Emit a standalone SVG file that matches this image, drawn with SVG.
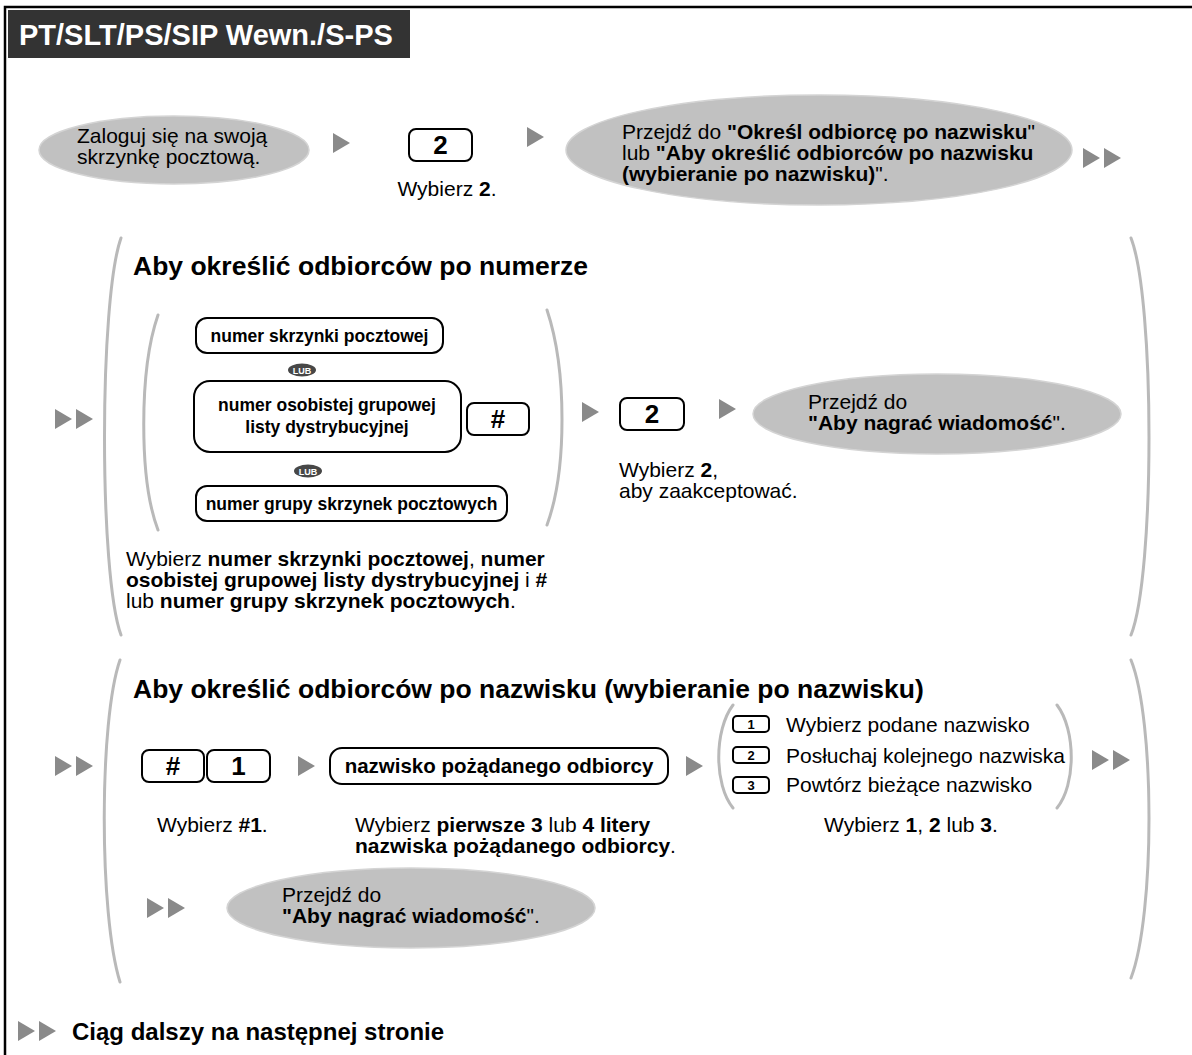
<svg xmlns="http://www.w3.org/2000/svg" xmlns:xlink="http://www.w3.org/1999/xlink" width="1192" height="1055" viewBox="0 0 1192 1055">
<style>
text{font-family:"Liberation Sans",Arial,Helvetica,sans-serif;font-size:21px;fill:#000}
.b{font-weight:bold}
.hd{font-size:29px;font-weight:bold;fill:#fff}
.tt{font-size:26.5px;font-weight:bold}
.lb{font-size:17.5px;font-weight:bold}
.nb{font-size:20.5px;font-weight:bold}
.kt{font-size:26px;font-weight:bold}
.sk{font-size:13px;font-weight:bold}
.lub{font-size:9px;font-weight:bold;fill:#fff}
.ft{font-size:24px;font-weight:bold}
.box{fill:#fff;stroke:#000;stroke-width:2}
.ell{fill:#c1c1c1;stroke:#d4d4d4;stroke-width:1.5}
.br{fill:none;stroke:#b9b9b9;stroke-width:3;stroke-linecap:round}
.arr{fill:#8a8a8a}
.badge{fill:#474747}
</style>
<defs>
<polygon id="tri" class="arr" points="0,-10 0,10 17,0"/>
<g id="dbl"><use xlink:href="#tri" href="#tri"/><use xlink:href="#tri" href="#tri" x="21"/></g>
</defs>
<rect width="1192" height="1055" fill="#fff"/>
<path d="M5,1055 V7 H1192" fill="none" stroke="#000" stroke-width="2.5"/>
<g id="header">
<rect x="8" y="10" width="402" height="48" fill="#333"/>
<text class="hd" x="19" y="45">PT/SLT/PS/SIP Wewn./S-PS</text>
</g>
<g id="brackets">
<path class="br" d="M121,238 C99,300 99,575 121,635"/>
<path class="br" d="M1131,238 C1155,300 1155,575 1131,635"/>
<path class="br" d="M158,315 C139,370 139,480 158,530"/>
<path class="br" d="M547,310 C567,370 567,470 547,525"/>
<path class="br" d="M120,660 C99,720 99,915 120,982"/>
<path class="br" d="M1131,660 C1155,720 1155,915 1131,978"/>
<path class="br" d="M733,705 C714,730 714,785 733,808"/>
<path class="br" d="M1057,705 C1076,730 1076,785 1057,808"/>
</g>
<g id="connectors">
<use xlink:href="#tri" href="#tri" x="333" y="143"/>
<use xlink:href="#tri" href="#tri" x="527" y="137"/>
<use xlink:href="#dbl" href="#dbl" x="1083" y="158"/>
<use xlink:href="#dbl" href="#dbl" x="55" y="419"/>
<use xlink:href="#tri" href="#tri" x="582" y="412"/>
<use xlink:href="#tri" href="#tri" x="719" y="409"/>
<use xlink:href="#dbl" href="#dbl" x="55" y="766"/>
<use xlink:href="#tri" href="#tri" x="298" y="766"/>
<use xlink:href="#tri" href="#tri" x="686" y="766"/>
<use xlink:href="#dbl" href="#dbl" x="1092" y="760"/>
<use xlink:href="#dbl" href="#dbl" x="147" y="908"/>
<use xlink:href="#dbl" href="#dbl" x="18" y="1031"/>
</g>
<g id="login">
<ellipse class="ell" cx="174" cy="150" rx="135" ry="34"/>
<text x="77" y="143">Zaloguj się na swoją<tspan x="77" dy="21">skrzynkę pocztową.</tspan></text>
</g>
<g id="key-2-top">
<rect class="box" x="409" y="129" width="63" height="32" rx="7"/>
<text class="kt" x="440.5" y="154" text-anchor="middle">2</text>
<text x="447" y="196" text-anchor="middle">Wybierz <tspan class="b">2</tspan>.</text>
</g>
<g id="goto-name">
<ellipse class="ell" cx="819" cy="150" rx="253" ry="55"/>
<text x="622" y="139">Przejdź do <tspan class="b">"Określ odbiorcę po nazwisku</tspan>"<tspan x="622" dy="21">lub </tspan><tspan class="b">"Aby określić odbiorców po nazwisku</tspan><tspan x="622" dy="21" class="b">(wybieranie po nazwisku)</tspan>".</text>
</g>
<g id="title-number">
<text class="tt" x="133" y="275">Aby określić odbiorców po numerze</text>
</g>
<g id="box-mailbox">
<rect class="box" x="196" y="318" width="247" height="35" rx="11"/>
<text class="lb" x="319.5" y="341.5" text-anchor="middle">numer skrzynki pocztowej</text>
</g>
<g id="lub-1">
<ellipse class="badge" cx="302" cy="370" rx="14" ry="6.5"/>
<text class="lub" x="302" y="373.5" text-anchor="middle">LUB</text>
</g>
<g id="box-personal">
<rect class="box" x="194" y="381" width="267" height="71" rx="16"/>
<text class="lb" x="327" y="411" text-anchor="middle">numer osobistej grupowej<tspan x="327" dy="22">listy dystrybucyjnej</tspan></text>
</g>
<g id="key-hash-1">
<rect class="box" x="467" y="403" width="62" height="32" rx="7"/>
<text class="kt" x="498" y="428" text-anchor="middle">#</text>
</g>
<g id="lub-2">
<ellipse class="badge" cx="308" cy="471" rx="14" ry="6.5"/>
<text class="lub" x="308" y="474.5" text-anchor="middle">LUB</text>
</g>
<g id="box-group">
<rect class="box" x="196" y="486" width="311" height="35" rx="11"/>
<text class="lb" x="351.5" y="509.5" text-anchor="middle">numer grupy skrzynek pocztowych</text>
</g>
<g id="note-number">
<text x="126" y="566">Wybierz <tspan class="b">numer skrzynki pocztowej</tspan>, <tspan class="b">numer</tspan><tspan x="126" dy="21" class="b">osobistej grupowej listy dystrybucyjnej</tspan> i <tspan class="b">#</tspan><tspan x="126" dy="21">lub </tspan><tspan class="b">numer grupy skrzynek pocztowych</tspan>.</text>
</g>
<g id="key-2-accept">
<rect class="box" x="620" y="398" width="64" height="32" rx="7"/>
<text class="kt" x="652" y="423" text-anchor="middle">2</text>
<text x="619" y="477">Wybierz <tspan class="b">2</tspan>,<tspan x="619" dy="21">aby zaakceptować.</tspan></text>
</g>
<g id="goto-record-1">
<ellipse class="ell" cx="937" cy="414" rx="184" ry="40"/>
<text x="808" y="409">Przejdź do<tspan x="808" dy="21" class="b">"Aby nagrać wiadomość</tspan>".</text>
</g>
<g id="title-name">
<text class="tt" x="133" y="698">Aby określić odbiorców po nazwisku (wybieranie po nazwisku)</text>
</g>
<g id="key-hash1">
<rect class="box" x="142" y="750" width="62" height="32" rx="7"/>
<text class="kt" x="173" y="775" text-anchor="middle">#</text>
<rect class="box" x="207" y="750" width="63" height="32" rx="7"/>
<text class="kt" x="238.5" y="775" text-anchor="middle">1</text>
<text x="157" y="832">Wybierz <tspan class="b">#1</tspan>.</text>
</g>
<g id="box-name">
<rect class="box" x="330" y="748" width="338" height="36" rx="12"/>
<text class="nb" x="499" y="773" text-anchor="middle">nazwisko pożądanego odbiorcy</text>
<text x="355" y="832">Wybierz <tspan class="b">pierwsze 3</tspan> lub <tspan class="b">4 litery</tspan><tspan x="355" dy="21" class="b">nazwiska pożądanego odbiorcy</tspan>.</text>
</g>
<g id="name-options">
<rect class="box" x="733" y="716" width="36" height="16" rx="4"/>
<text class="sk" x="751" y="729" text-anchor="middle">1</text>
<text x="786" y="732">Wybierz podane nazwisko</text>
<rect class="box" x="733" y="747" width="36" height="16" rx="4"/>
<text class="sk" x="751" y="760" text-anchor="middle">2</text>
<text x="786" y="763">Posłuchaj kolejnego nazwiska</text>
<rect class="box" x="733" y="777" width="36" height="16" rx="4"/>
<text class="sk" x="751" y="790" text-anchor="middle">3</text>
<text x="786" y="792">Powtórz bieżące nazwisko</text>
<text x="911" y="832" text-anchor="middle">Wybierz <tspan class="b">1</tspan>, <tspan class="b">2</tspan> lub <tspan class="b">3</tspan>.</text>
</g>
<g id="goto-record-2">
<ellipse class="ell" cx="411" cy="908" rx="184" ry="40"/>
<text x="282" y="902">Przejdź do<tspan x="282" dy="21" class="b">"Aby nagrać wiadomość</tspan>".</text>
</g>
<g id="footer">
<text class="ft" x="72" y="1040">Ciąg dalszy na następnej stronie</text>
</g>
</svg>
